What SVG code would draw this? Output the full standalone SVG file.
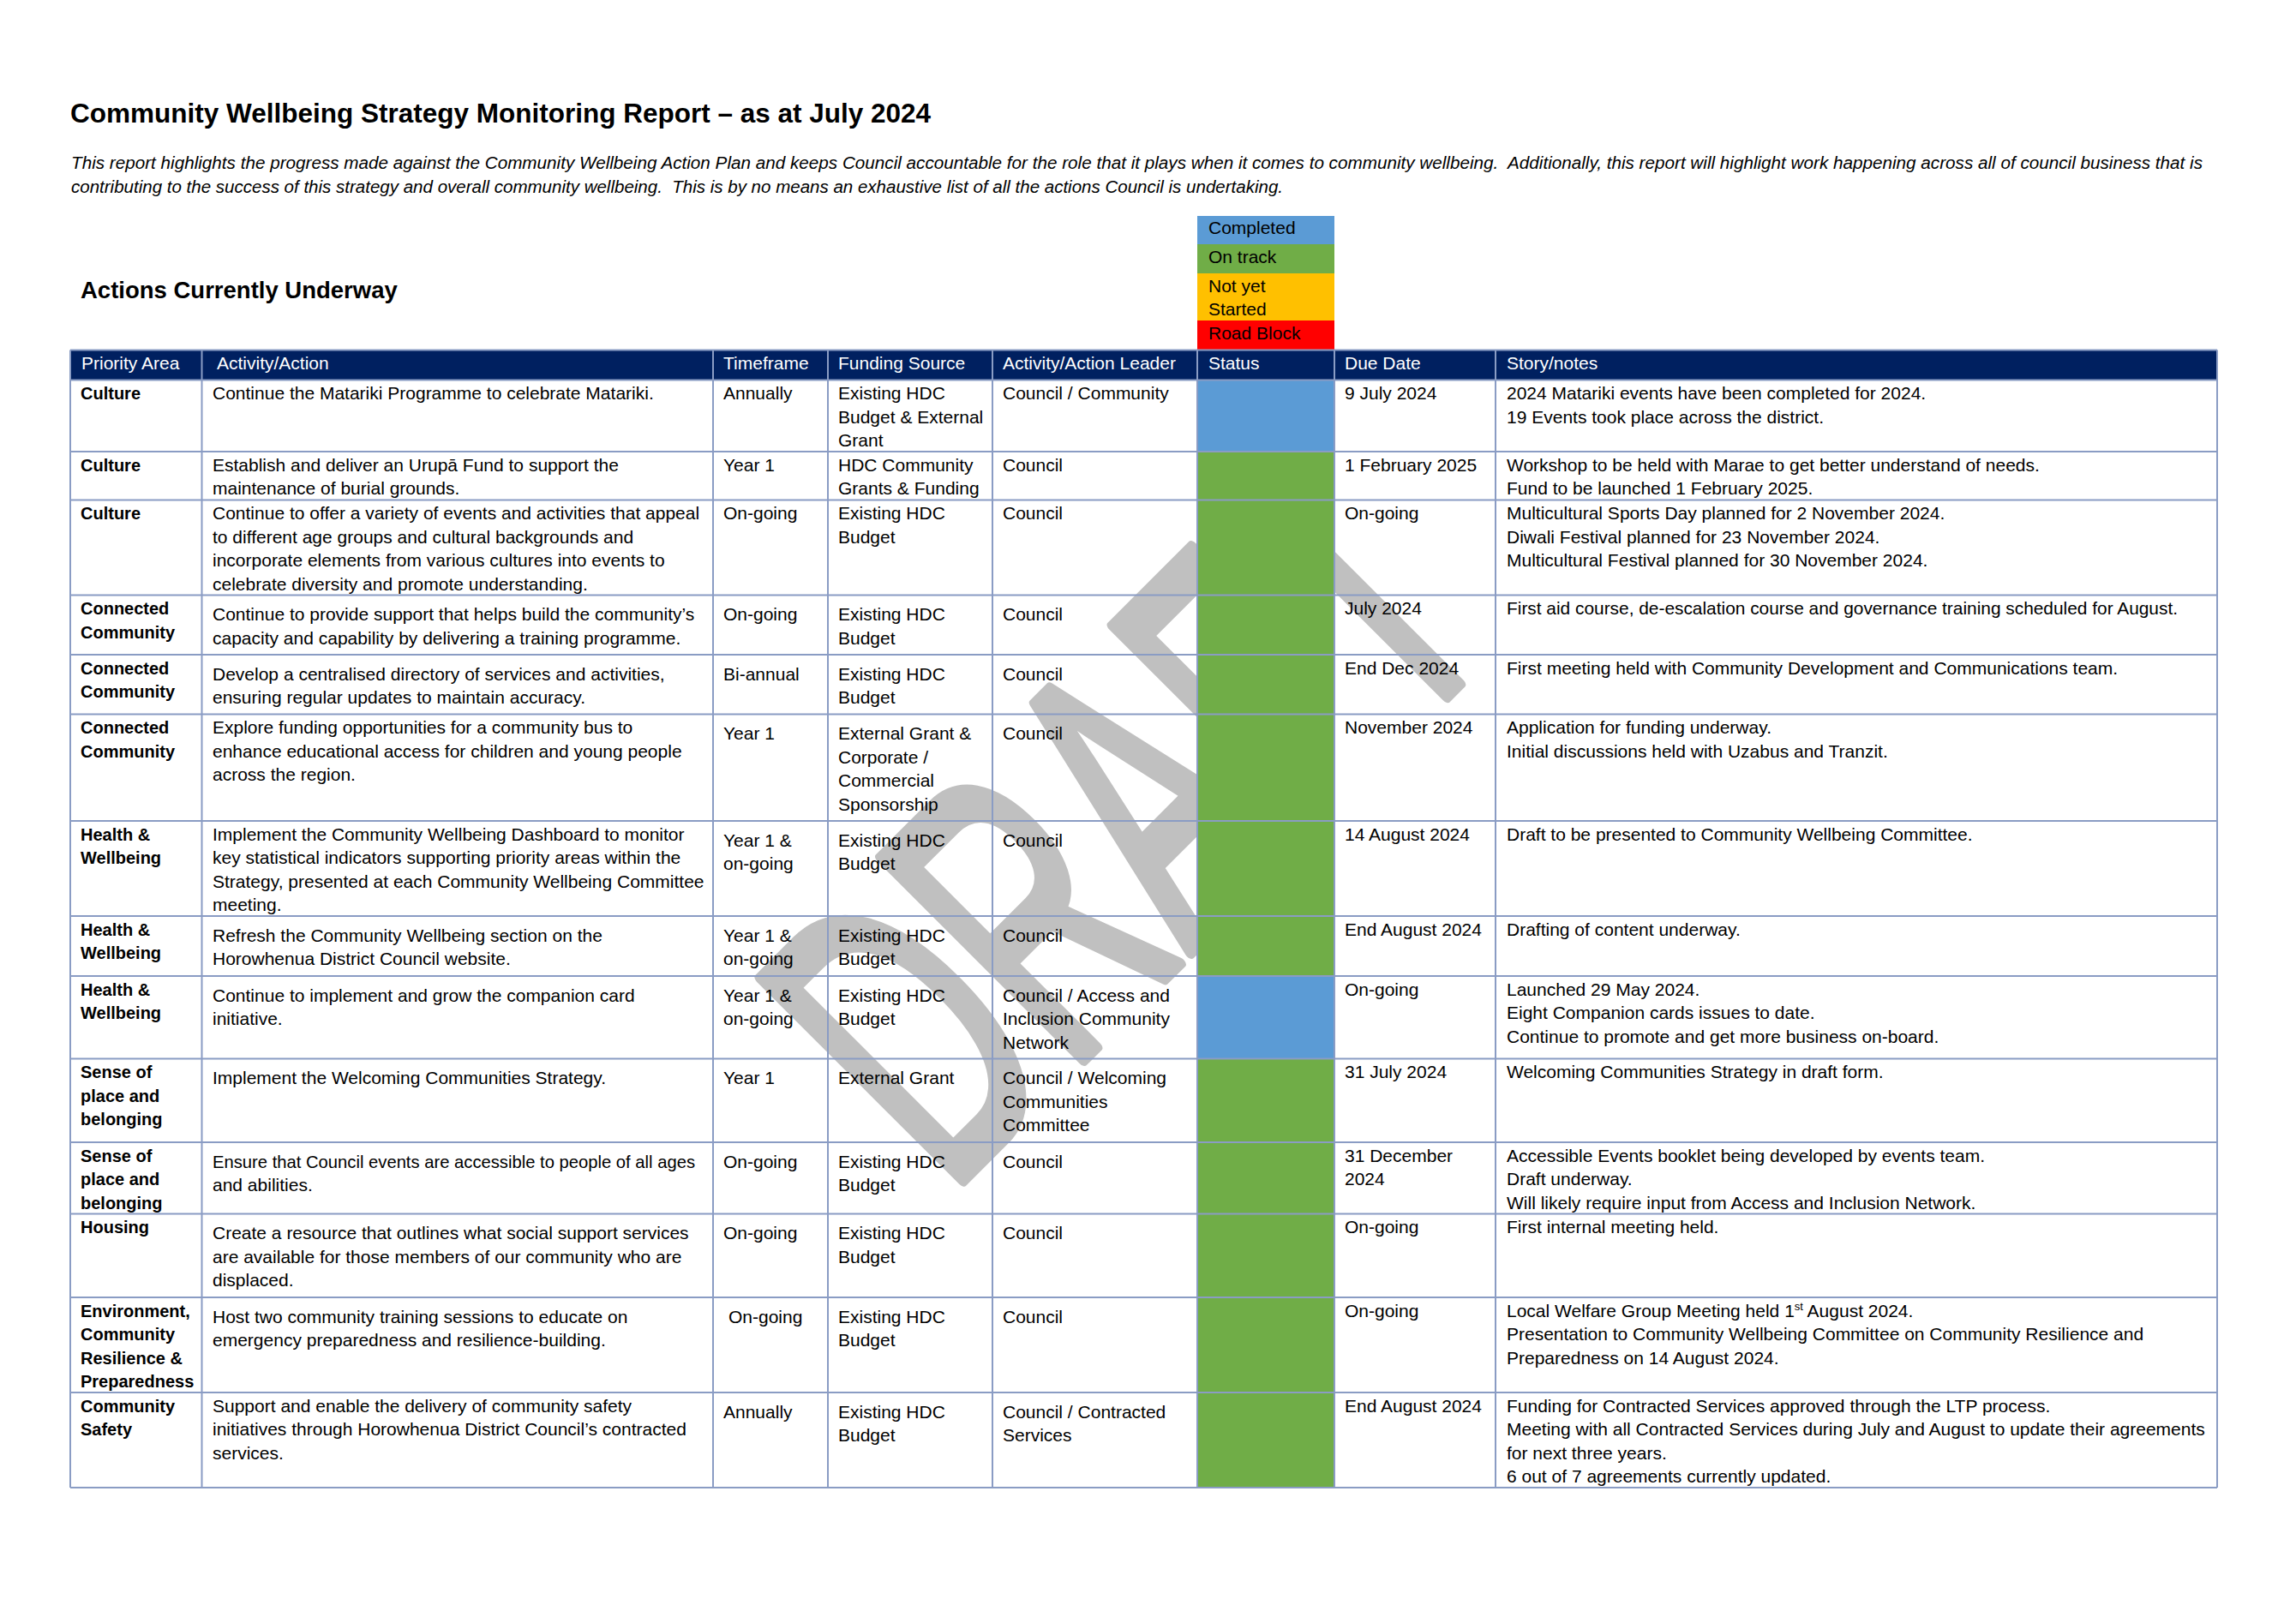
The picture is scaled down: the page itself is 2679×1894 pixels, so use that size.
<svg xmlns="http://www.w3.org/2000/svg" width="2679" height="1894" viewBox="0 0 2679 1894">
<style>
text{font-family:"Liberation Sans",Arial,sans-serif;font-size:21px;fill:#000}
.b{font-weight:bold;font-size:20px}
.hd{fill:#fff}
.ttl{font-weight:bold;font-size:31.5px}
.sub{font-weight:bold;font-size:27.5px}
.it{font-style:italic;font-size:20.5px}
.grid line{stroke:#8A9CC4;stroke-width:2}
.g{fill:#70AD47}
.bl{fill:#5B9BD5}
</style>
<rect width="2679" height="1894" fill="#fff"/>
<g id="watermark">
<text x="0" y="0" transform="translate(1106,1395) rotate(-45)" textLength="918" lengthAdjust="spacingAndGlyphs" stroke="#c0c0c0" stroke-width="14" stroke-linejoin="round" style="font-size:485px;fill:#c0c0c0">DRAFT</text>
</g>
<g id="heading">
<text class="ttl" x="82" y="143">Community Wellbeing Strategy Monitoring Report – as at July 2024</text>
<text class="it" x="83" y="197" textLength="2487" lengthAdjust="spacingAndGlyphs" xml:space="preserve">This report highlights the progress made against the Community Wellbeing Action Plan and keeps Council accountable for the role that it plays when it comes to community wellbeing.  Additionally, this report will highlight work happening across all of council business that is</text>
<text class="it" x="83" y="225" textLength="1414" lengthAdjust="spacingAndGlyphs" xml:space="preserve">contributing to the success of this strategy and overall community wellbeing.  This is by no means an exhaustive list of all the actions Council is undertaking.</text>
<text class="sub" x="94" y="348">Actions Currently Underway</text>
</g>
<g id="legend">
<rect x="1397" y="252" width="160" height="33" fill="#5B9BD5"/>
<rect x="1397" y="285" width="160" height="34" fill="#70AD47"/>
<rect x="1397" y="319" width="160" height="55" fill="#FFC000"/>
<rect x="1397" y="374" width="160" height="34.5" fill="#FF0000"/>
<text x="1410" y="273">Completed</text>
<text x="1410" y="307">On track</text>
<text x="1410" y="341">Not yet</text>
<text x="1410" y="368">Started</text>
<text x="1410" y="396">Road Block</text>
</g>
<g id="status-fills">
<rect class="bl" x="1397" y="443.5" width="160" height="83.5"/>
<rect class="g" x="1397" y="527" width="160" height="612"/>
<rect class="bl" x="1397" y="1139" width="160" height="96.5"/>
<rect class="g" x="1397" y="1235.5" width="160" height="500.5"/>
</g>
<g id="header">
<rect x="82" y="408.5" width="2505" height="35" fill="#002060"/>
<text class="hd" x="95" y="431">Priority Area</text>
<text class="hd" x="253" y="431">Activity/Action</text>
<text class="hd" x="844" y="431">Timeframe</text>
<text class="hd" x="978" y="431">Funding Source</text>
<text class="hd" x="1170" y="431">Activity/Action Leader</text>
<text class="hd" x="1410" y="431">Status</text>
<text class="hd" x="1569" y="431">Due Date</text>
<text class="hd" x="1758" y="431">Story/notes</text>
</g>
<g class="grid" id="connectors">
<line x1="82" y1="408.5" x2="2587" y2="408.5"/>
<line x1="82" y1="443.5" x2="2587" y2="443.5"/>
<line x1="82" y1="527" x2="2587" y2="527"/>
<line x1="82" y1="583.5" x2="2587" y2="583.5"/>
<line x1="82" y1="694.5" x2="2587" y2="694.5"/>
<line x1="82" y1="764" x2="2587" y2="764"/>
<line x1="82" y1="833.5" x2="2587" y2="833.5"/>
<line x1="82" y1="958" x2="2587" y2="958"/>
<line x1="82" y1="1069" x2="2587" y2="1069"/>
<line x1="82" y1="1139" x2="2587" y2="1139"/>
<line x1="82" y1="1235.5" x2="2587" y2="1235.5"/>
<line x1="82" y1="1333" x2="2587" y2="1333"/>
<line x1="82" y1="1416.5" x2="2587" y2="1416.5"/>
<line x1="82" y1="1514" x2="2587" y2="1514"/>
<line x1="82" y1="1625" x2="2587" y2="1625"/>
<line x1="82" y1="1736" x2="2587" y2="1736"/>
<line x1="82" y1="408.5" x2="82" y2="1736"/>
<line x1="235.5" y1="408.5" x2="235.5" y2="1736"/>
<line x1="832" y1="408.5" x2="832" y2="1736"/>
<line x1="966" y1="408.5" x2="966" y2="1736"/>
<line x1="1158" y1="408.5" x2="1158" y2="1736"/>
<line x1="1397" y1="408.5" x2="1397" y2="1736"/>
<line x1="1557" y1="408.5" x2="1557" y2="1736"/>
<line x1="1745" y1="408.5" x2="1745" y2="1736"/>
<line x1="2587" y1="408.5" x2="2587" y2="1736"/>
</g>
<g id="row1">
<text class="b" x="94" y="466">Culture</text>
<text x="248" y="466">Continue the Matariki Programme to celebrate Matariki.</text>
<text x="844" y="466">Annually</text>
<text x="978" y="466"><tspan x="978">Existing HDC</tspan><tspan x="978" dy="27.5">Budget &amp; External</tspan><tspan x="978" dy="27.5">Grant</tspan></text>
<text x="1170" y="466">Council / Community</text>
<text x="1569" y="466">9 July 2024</text>
<text x="1758" y="466"><tspan x="1758">2024 Matariki events have been completed for 2024.</tspan><tspan x="1758" dy="27.5">19 Events took place across the district.</tspan></text>
</g>
<g id="row2">
<text class="b" x="94" y="549.5">Culture</text>
<text x="248" y="549.5"><tspan x="248">Establish and deliver an Urupā Fund to support the</tspan><tspan x="248" dy="27.5">maintenance of burial grounds.</tspan></text>
<text x="844" y="549.5">Year 1</text>
<text x="978" y="549.5"><tspan x="978">HDC Community</tspan><tspan x="978" dy="27.5">Grants &amp; Funding</tspan></text>
<text x="1170" y="549.5">Council</text>
<text x="1569" y="549.5">1 February 2025</text>
<text x="1758" y="549.5"><tspan x="1758">Workshop to be held with Marae to get better understand of needs.</tspan><tspan x="1758" dy="27.5">Fund to be launched 1 February 2025.</tspan></text>
</g>
<g id="row3">
<text class="b" x="94" y="606">Culture</text>
<text x="248" y="606"><tspan x="248">Continue to offer a variety of events and activities that appeal</tspan><tspan x="248" dy="27.5">to different age groups and cultural backgrounds and</tspan><tspan x="248" dy="27.5">incorporate elements from various cultures into events to</tspan><tspan x="248" dy="27.5">celebrate diversity and promote understanding.</tspan></text>
<text x="844" y="606">On-going</text>
<text x="978" y="606"><tspan x="978">Existing HDC</tspan><tspan x="978" dy="27.5">Budget</tspan></text>
<text x="1170" y="606">Council</text>
<text x="1569" y="606">On-going</text>
<text x="1758" y="606"><tspan x="1758">Multicultural Sports Day planned for 2 November 2024.</tspan><tspan x="1758" dy="27.5">Diwali Festival planned for 23 November 2024.</tspan><tspan x="1758" dy="27.5">Multicultural Festival planned for 30 November 2024.</tspan></text>
</g>
<g id="row4">
<text class="b" x="94" y="717"><tspan x="94">Connected</tspan><tspan x="94" dy="27.5">Community</tspan></text>
<text x="248" y="724"><tspan x="248">Continue to provide support that helps build the community’s</tspan><tspan x="248" dy="27.5">capacity and capability by delivering a training programme.</tspan></text>
<text x="844" y="724">On-going</text>
<text x="978" y="724"><tspan x="978">Existing HDC</tspan><tspan x="978" dy="27.5">Budget</tspan></text>
<text x="1170" y="724">Council</text>
<text x="1569" y="717">July 2024</text>
<text x="1758" y="717" textLength="783" lengthAdjust="spacingAndGlyphs">First aid course, de-escalation course and governance training scheduled for August.</text>
</g>
<g id="row5">
<text class="b" x="94" y="786.5"><tspan x="94">Connected</tspan><tspan x="94" dy="27.5">Community</tspan></text>
<text x="248" y="793.5"><tspan x="248">Develop a centralised directory of services and activities,</tspan><tspan x="248" dy="27.5">ensuring regular updates to maintain accuracy.</tspan></text>
<text x="844" y="793.5">Bi-annual</text>
<text x="978" y="793.5"><tspan x="978">Existing HDC</tspan><tspan x="978" dy="27.5">Budget</tspan></text>
<text x="1170" y="793.5">Council</text>
<text x="1569" y="786.5">End Dec 2024</text>
<text x="1758" y="786.5">First meeting held with Community Development and Communications team.</text>
</g>
<g id="row6">
<text class="b" x="94" y="856"><tspan x="94">Connected</tspan><tspan x="94" dy="27.5">Community</tspan></text>
<text x="248" y="856"><tspan x="248">Explore funding opportunities for a community bus to</tspan><tspan x="248" dy="27.5">enhance educational access for children and young people</tspan><tspan x="248" dy="27.5">across the region.</tspan></text>
<text x="844" y="863">Year 1</text>
<text x="978" y="863"><tspan x="978">External Grant &amp;</tspan><tspan x="978" dy="27.5">Corporate /</tspan><tspan x="978" dy="27.5">Commercial</tspan><tspan x="978" dy="27.5">Sponsorship</tspan></text>
<text x="1170" y="863">Council</text>
<text x="1569" y="856">November 2024</text>
<text x="1758" y="856"><tspan x="1758">Application for funding underway.</tspan><tspan x="1758" dy="27.5">Initial discussions held with Uzabus and Tranzit.</tspan></text>
</g>
<g id="row7">
<text class="b" x="94" y="980.5"><tspan x="94">Health &amp;</tspan><tspan x="94" dy="27.5">Wellbeing</tspan></text>
<text x="248" y="980.5"><tspan x="248">Implement the Community Wellbeing Dashboard to monitor</tspan><tspan x="248" dy="27.5">key statistical indicators supporting priority areas within the</tspan><tspan x="248" dy="27.5">Strategy, presented at each Community Wellbeing Committee</tspan><tspan x="248" dy="27.5">meeting.</tspan></text>
<text x="844" y="987.5"><tspan x="844">Year 1 &amp;</tspan><tspan x="844" dy="27.5">on-going</tspan></text>
<text x="978" y="987.5"><tspan x="978">Existing HDC</tspan><tspan x="978" dy="27.5">Budget</tspan></text>
<text x="1170" y="987.5">Council</text>
<text x="1569" y="980.5">14 August 2024</text>
<text x="1758" y="980.5">Draft to be presented to Community Wellbeing Committee.</text>
</g>
<g id="row8">
<text class="b" x="94" y="1091.5"><tspan x="94">Health &amp;</tspan><tspan x="94" dy="27.5">Wellbeing</tspan></text>
<text x="248" y="1098.5"><tspan x="248">Refresh the Community Wellbeing section on the</tspan><tspan x="248" dy="27.5">Horowhenua District Council website.</tspan></text>
<text x="844" y="1098.5"><tspan x="844">Year 1 &amp;</tspan><tspan x="844" dy="27.5">on-going</tspan></text>
<text x="978" y="1098.5"><tspan x="978">Existing HDC</tspan><tspan x="978" dy="27.5">Budget</tspan></text>
<text x="1170" y="1098.5">Council</text>
<text x="1569" y="1091.5">End August 2024</text>
<text x="1758" y="1091.5">Drafting of content underway.</text>
</g>
<g id="row9">
<text class="b" x="94" y="1161.5"><tspan x="94">Health &amp;</tspan><tspan x="94" dy="27.5">Wellbeing</tspan></text>
<text x="248" y="1168.5"><tspan x="248">Continue to implement and grow the companion card</tspan><tspan x="248" dy="27.5">initiative.</tspan></text>
<text x="844" y="1168.5"><tspan x="844">Year 1 &amp;</tspan><tspan x="844" dy="27.5">on-going</tspan></text>
<text x="978" y="1168.5"><tspan x="978">Existing HDC</tspan><tspan x="978" dy="27.5">Budget</tspan></text>
<text x="1170" y="1168.5"><tspan x="1170">Council / Access and</tspan><tspan x="1170" dy="27.5">Inclusion Community</tspan><tspan x="1170" dy="27.5">Network</tspan></text>
<text x="1569" y="1161.5">On-going</text>
<text x="1758" y="1161.5"><tspan x="1758">Launched 29 May 2024.</tspan><tspan x="1758" dy="27.5">Eight Companion cards issues to date.</tspan><tspan x="1758" dy="27.5">Continue to promote and get more business on-board.</tspan></text>
</g>
<g id="row10">
<text class="b" x="94" y="1258"><tspan x="94">Sense of</tspan><tspan x="94" dy="27.5">place and</tspan><tspan x="94" dy="27.5">belonging</tspan></text>
<text x="248" y="1265">Implement the Welcoming Communities Strategy.</text>
<text x="844" y="1265">Year 1</text>
<text x="978" y="1265">External Grant</text>
<text x="1170" y="1265"><tspan x="1170">Council / Welcoming</tspan><tspan x="1170" dy="27.5">Communities</tspan><tspan x="1170" dy="27.5">Committee</tspan></text>
<text x="1569" y="1258">31 July 2024</text>
<text x="1758" y="1258">Welcoming Communities Strategy in draft form.</text>
</g>
<g id="row11">
<text class="b" x="94" y="1355.5"><tspan x="94">Sense of</tspan><tspan x="94" dy="27.5">place and</tspan><tspan x="94" dy="27.5">belonging</tspan></text>
<text x="248" y="1362.5" textLength="563" lengthAdjust="spacingAndGlyphs">Ensure that Council events are accessible to people of all ages</text>
<text x="248" y="1390">and abilities.</text>
<text x="844" y="1362.5">On-going</text>
<text x="978" y="1362.5"><tspan x="978">Existing HDC</tspan><tspan x="978" dy="27.5">Budget</tspan></text>
<text x="1170" y="1362.5">Council</text>
<text x="1569" y="1355.5"><tspan x="1569">31 December</tspan><tspan x="1569" dy="27.5">2024</tspan></text>
<text x="1758" y="1355.5"><tspan x="1758">Accessible Events booklet being developed by events team.</tspan><tspan x="1758" dy="27.5">Draft underway.</tspan><tspan x="1758" dy="27.5">Will likely require input from Access and Inclusion Network.</tspan></text>
</g>
<g id="row12">
<text class="b" x="94" y="1439">Housing</text>
<text x="248" y="1446"><tspan x="248">Create a resource that outlines what social support services</tspan><tspan x="248" dy="27.5">are available for those members of our community who are</tspan><tspan x="248" dy="27.5">displaced.</tspan></text>
<text x="844" y="1446">On-going</text>
<text x="978" y="1446"><tspan x="978">Existing HDC</tspan><tspan x="978" dy="27.5">Budget</tspan></text>
<text x="1170" y="1446">Council</text>
<text x="1569" y="1439">On-going</text>
<text x="1758" y="1439">First internal meeting held.</text>
</g>
<g id="row13">
<text class="b" x="94" y="1536.5"><tspan x="94">Environment,</tspan><tspan x="94" dy="27.5">Community</tspan><tspan x="94" dy="27.5">Resilience &amp;</tspan><tspan x="94" dy="27.5">Preparedness</tspan></text>
<text x="248" y="1543.5"><tspan x="248">Host two community training sessions to educate on</tspan><tspan x="248" dy="27.5">emergency preparedness and resilience-building.</tspan></text>
<text x="850" y="1543.5">On-going</text>
<text x="978" y="1543.5"><tspan x="978">Existing HDC</tspan><tspan x="978" dy="27.5">Budget</tspan></text>
<text x="1170" y="1543.5">Council</text>
<text x="1569" y="1536.5">On-going</text>
<text x="1758" y="1536.5"><tspan x="1758">Local Welfare Group Meeting held 1</tspan><tspan style="font-size:13px" dy="-8">st</tspan><tspan dy="8"> August 2024.</tspan><tspan x="1758" dy="27.5">Presentation to Community Wellbeing Committee on Community Resilience and</tspan><tspan x="1758" dy="27.5">Preparedness on 14 August 2024.</tspan></text>
</g>
<g id="row14">
<text class="b" x="94" y="1647.5"><tspan x="94">Community</tspan><tspan x="94" dy="27.5">Safety</tspan></text>
<text x="248" y="1647.5"><tspan x="248">Support and enable the delivery of community safety</tspan><tspan x="248" dy="27.5">initiatives through Horowhenua District Council’s contracted</tspan><tspan x="248" dy="27.5">services.</tspan></text>
<text x="844" y="1654.5">Annually</text>
<text x="978" y="1654.5"><tspan x="978">Existing HDC</tspan><tspan x="978" dy="27.5">Budget</tspan></text>
<text x="1170" y="1654.5"><tspan x="1170">Council / Contracted</tspan><tspan x="1170" dy="27.5">Services</tspan></text>
<text x="1569" y="1647.5">End August 2024</text>
<text x="1758" y="1647.5"><tspan x="1758">Funding for Contracted Services approved through the LTP process.</tspan><tspan x="1758" dy="27.5">Meeting with all Contracted Services during July and August to update their agreements</tspan><tspan x="1758" dy="27.5">for next three years.</tspan><tspan x="1758" dy="27.5">6 out of 7 agreements currently updated.</tspan></text>
</g>
</svg>
